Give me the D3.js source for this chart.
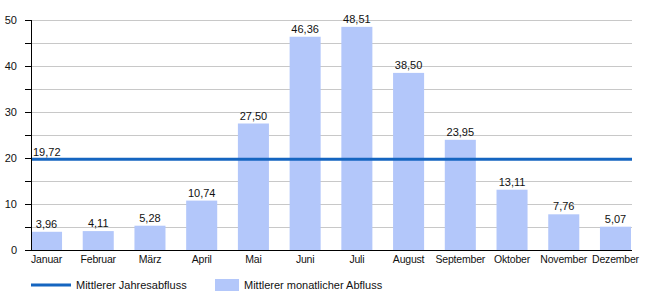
<!DOCTYPE html>
<html>
<head>
<meta charset="utf-8">
<script src="https://cdn.jsdelivr.net/npm/d3@7"></script>
<style>
  body { margin: 0; background: #fff; }
  svg { font-family: "Liberation Sans", Arial, sans-serif; }
</style>
</head>
<body>
<div id="chart"></div>
<script>
// Data
var months = ["Januar", "Februar", "März", "April", "Mai", "Juni", "Juli", "August", "September", "Oktober", "November", "Dezember"];
var monthlyFlow = [3.96, 4.11, 5.28, 10.74, 27.50, 46.36, 48.51, 38.50, 23.95, 13.11, 7.76, 5.07];
var yearlyFlow = 19.72;
var yTicks = [0, 10, 20, 30, 40, 50];
var legendLabels = ["Mittlerer Jahresabfluss", "Mittlerer monatlicher Abfluss"];

var width = 650, height = 300,
    margin = {top: 20, right: 18, bottom: 50, left: 31};

var fmt = function(v) { return v.toFixed(2).replace(".", ","); };

var svg = d3.select("#chart").append("svg")
    .attr("width", width)
    .attr("height", height);

var innerW = width - margin.left - margin.right,
    innerH = height - margin.top - margin.bottom;

var x = d3.scaleBand().domain(months).range([0, 600]).paddingInner(0.4).paddingOuter(0);
var y = d3.scaleLinear().domain([0, 50]).range([innerH, 0]);

var g = svg.append("g").attr("transform", "translate(" + margin.left + "," + margin.top + ")");

// Gridlines every 5
g.append("g").selectAll("line")
  .data(d3.range(5, 51, 5))
  .enter().append("line")
    .attr("x1", 0).attr("x2", innerW)
    .attr("y1", function(d) { return y(d) + 0.5; })
    .attr("y2", function(d) { return y(d) + 0.5; })
    .style("stroke", "#c8c8c8");

// Bars
g.append("g").selectAll("rect")
  .data(monthlyFlow)
  .enter().append("rect")
    .attr("x", function(d, i) { return x(months[i]); })
    .attr("y", function(d) { return y(d); })
    .attr("width", x.bandwidth())
    .attr("height", function(d) { return innerH - y(d); })
    .style("fill", "#b3c7fa");

// Bar labels
g.append("g").selectAll("text")
  .data(monthlyFlow)
  .enter().append("text")
    .attr("x", function(d, i) { return x(months[i]) + x.bandwidth() / 2; })
    .attr("y", function(d) { return y(d) - 4; })
    .attr("text-anchor", "middle")
    .style("font-size", "11px")
    .style("fill", "#111")
    .text(function(d) { return fmt(d); });

// Yearly mean line
g.append("line")
    .attr("x1", 0).attr("x2", innerW)
    .attr("y1", y(yearlyFlow)).attr("y2", y(yearlyFlow))
    .style("stroke", "#1565c0")
    .style("stroke-width", 3);

g.append("text")
    .attr("x", 2)
    .attr("y", y(yearlyFlow) - 3)
    .style("font-size", "11px")
    .style("fill", "#111")
    .text(fmt(yearlyFlow));

// Y axis
var yAxis = d3.axisLeft(y).tickValues(d3.range(0, 51, 5)).tickSize(6)
    .tickFormat(function(d) { return yTicks.indexOf(d) >= 0 ? d : ""; });
var ya = g.append("g").call(yAxis);
ya.select(".domain").attr("d", "M0.5," + innerH + "V0").style("stroke", "#000");
ya.selectAll(".tick line").style("stroke", "#000");
ya.selectAll(".tick text").attr("x", -14).style("font-size", "11px").style("fill", "#111").style("font-family", "Liberation Sans, Arial, sans-serif");

// X axis
var xAxis = d3.axisBottom(x).tickSize(0).tickPadding(6);
var xa = g.append("g").attr("transform", "translate(0," + innerH + ")").call(xAxis);
xa.select(".domain").attr("d", "M0,0.5H" + innerW).style("stroke", "#000");
xa.selectAll(".tick text").style("font-size", "10.5px").style("letter-spacing", "-0.2px").style("fill", "#111").style("font-family", "Liberation Sans, Arial, sans-serif");

// Legend
var legend = svg.append("g").attr("transform", "translate(31,285)");
legend.append("line")
    .attr("x1", 0).attr("x2", 40).attr("y1", 0).attr("y2", 0)
    .style("stroke", "#1565c0").style("stroke-width", 3);
legend.append("text")
    .attr("x", 45).attr("y", 0).attr("dy", "0.35em")
    .style("font-size", "11px").style("fill", "#111")
    .text(legendLabels[0]);
legend.append("rect")
    .attr("x", 184).attr("y", -6).attr("width", 24).attr("height", 12)
    .style("fill", "#b3c7fa");
legend.append("text")
    .attr("x", 213).attr("y", 0).attr("dy", "0.35em")
    .style("font-size", "11px").style("fill", "#111")
    .text(legendLabels[1]);
</script>
</body>
</html>
